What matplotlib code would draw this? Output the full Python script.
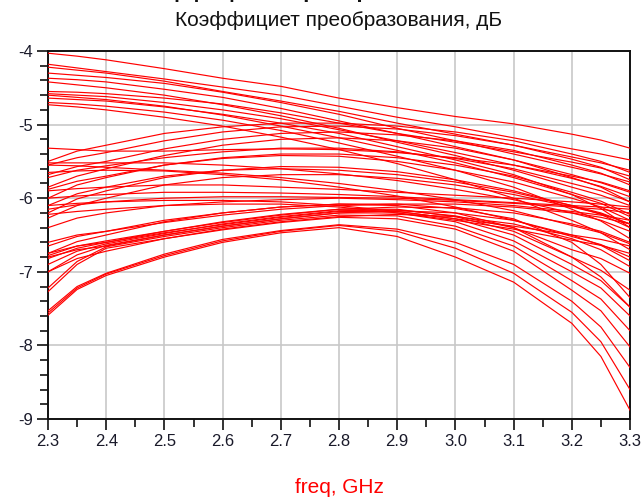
import matplotlib
matplotlib.use("Agg")
import matplotlib.pyplot as plt
from matplotlib.ticker import MultipleLocator, FormatStrFormatter

plt.rcParams['axes.unicode_minus'] = False
plt.rcParams['font.family'] = ['Liberation Sans', 'DejaVu Sans']

freq = [2.3, 2.35, 2.4, 2.5, 2.6, 2.7, 2.8, 2.9, 3.0, 3.1, 3.2, 3.25, 3.3]

# top family (decreasing)
top_curves = [
    [-4.03, -4.07, -4.12, -4.24, -4.37, -4.48, -4.64, -4.77, -4.89, -4.99, -5.13, -5.21, -5.32],
    [-4.18, -4.23, -4.28, -4.38, -4.49, -4.60, -4.75, -4.90, -5.03, -5.18, -5.33, -5.40, -5.48],
    [-4.22, -4.26, -4.30, -4.41, -4.55, -4.68, -4.82, -4.98, -5.13, -5.28, -5.44, -5.52, -5.62],
    [-4.30, -4.33, -4.36, -4.44, -4.56, -4.70, -4.86, -5.05, -5.22, -5.40, -5.58, -5.67, -5.78],
    [-4.37, -4.39, -4.42, -4.52, -4.63, -4.78, -4.95, -5.12, -5.30, -5.48, -5.68, -5.79, -5.92],
    [-4.42, -4.46, -4.50, -4.60, -4.73, -4.88, -5.05, -5.24, -5.42, -5.62, -5.85, -5.96, -6.10],
    [-4.55, -4.56, -4.58, -4.64, -4.72, -4.84, -4.98, -5.12, -5.24, -5.37, -5.51, -5.59, -5.70],
    [-4.58, -4.60, -4.62, -4.70, -4.80, -4.92, -5.07, -5.22, -5.38, -5.55, -5.73, -5.84, -5.98],
    [-4.60, -4.63, -4.66, -4.75, -4.87, -5.02, -5.18, -5.35, -5.52, -5.72, -5.95, -6.07, -6.25],
    [-4.64, -4.66, -4.68, -4.76, -4.86, -4.98, -5.12, -5.30, -5.48, -5.68, -5.95, -6.14, -6.40],
    [-4.70, -4.72, -4.75, -4.83, -4.94, -5.08, -5.25, -5.43, -5.62, -5.85, -6.15, -6.31, -6.55],
    [-4.73, -4.76, -4.80, -4.90, -5.02, -5.17, -5.34, -5.53, -5.75, -6.00, -6.30, -6.47, -6.70],
]

# middle family (arcs)
mid_curves = [
    [-5.32, -5.34, -5.36, -5.36, -5.34, -5.33, -5.34, -5.38, -5.45, -5.55, -5.70, -5.78, -5.90],
    [-5.50, -5.36, -5.28, -5.12, -5.03, -4.98, -4.98, -5.02, -5.10, -5.22, -5.40, -5.50, -5.65],
    [-5.55, -5.45, -5.38, -5.22, -5.10, -5.03, -5.02, -5.06, -5.15, -5.28, -5.47, -5.58, -5.75],
    [-5.68, -5.57, -5.50, -5.33, -5.20, -5.12, -5.10, -5.14, -5.22, -5.35, -5.55, -5.66, -5.82],
    [-5.72, -5.62, -5.56, -5.45, -5.37, -5.32, -5.32, -5.37, -5.46, -5.60, -5.80, -5.90, -6.05],
    [-5.85, -5.70, -5.60, -5.42, -5.28, -5.20, -5.18, -5.22, -5.32, -5.48, -5.72, -5.85, -6.05],
    [-5.88, -5.77, -5.70, -5.55, -5.46, -5.42, -5.43, -5.50, -5.62, -5.78, -6.00, -6.12, -6.30],
    [-6.00, -5.82, -5.72, -5.55, -5.45, -5.40, -5.40, -5.45, -5.55, -5.70, -5.92, -6.04, -6.22],
    [-5.52, -5.52, -5.52, -5.52, -5.55, -5.60, -5.67, -5.76, -5.88, -6.02, -6.20, -6.30, -6.45],
    [-5.55, -5.56, -5.58, -5.62, -5.66, -5.72, -5.80, -5.90, -6.02, -6.17, -6.37, -6.47, -6.62],
    [-5.65, -5.63, -5.62, -5.63, -5.68, -5.75, -5.85, -5.97, -6.12, -6.30, -6.52, -6.63, -6.80],
    [-6.10, -5.94, -5.85, -5.70, -5.62, -5.60, -5.62, -5.68, -5.78, -5.92, -6.10, -6.20, -6.35],
    [-6.20, -6.01, -5.90, -5.72, -5.62, -5.57, -5.58, -5.64, -5.75, -5.90, -6.10, -6.22, -6.40],
    [-6.27, -6.10, -6.00, -5.82, -5.72, -5.68, -5.68, -5.73, -5.82, -5.95, -6.12, -6.21, -6.35],
]

# lower family (flat near -6 dB)
low_curves = [
    [-5.90, -5.87, -5.85, -5.82, -5.82, -5.85, -5.88, -5.92, -5.96, -6.00, -6.05, -6.08, -6.12],
    [-6.00, -5.97, -5.95, -5.92, -5.92, -5.93, -5.95, -5.98, -6.02, -6.06, -6.10, -6.12, -6.15],
    [-6.15, -6.09, -6.05, -6.00, -5.98, -5.98, -5.99, -6.00, -6.03, -6.07, -6.12, -6.15, -6.20],
    [-6.40, -6.27, -6.20, -6.10, -6.05, -6.02, -6.00, -6.02, -6.05, -6.10, -6.18, -6.23, -6.30],
    [-6.60, -6.50, -6.45, -6.33, -6.23, -6.15, -6.10, -6.08, -6.08, -6.12, -6.20, -6.26, -6.35],
    [-6.75, -6.65, -6.60, -6.45, -6.32, -6.22, -6.15, -6.12, -6.13, -6.20, -6.35, -6.45, -6.60],
    [-6.80, -6.70, -6.65, -6.50, -6.38, -6.28, -6.20, -6.17, -6.20, -6.30, -6.50, -6.64, -6.85],
    [-7.00, -6.82, -6.72, -6.55, -6.42, -6.32, -6.25, -6.22, -6.25, -6.35, -6.55, -6.70, -6.93],
    [-6.10, -6.07, -6.05, -6.03, -6.03, -6.05, -6.10, -6.18, -6.28, -6.38, -6.50, -6.56, -6.65],
    [-6.22, -6.18, -6.15, -6.10, -6.08, -6.08, -6.12, -6.20, -6.30, -6.42, -6.57, -6.64, -6.75],
    [-6.65, -6.52, -6.45, -6.30, -6.20, -6.12, -6.08, -6.08, -6.14, -6.28, -6.60, -6.90, -7.35],
    [-6.75, -6.59, -6.50, -6.32, -6.20, -6.12, -6.08, -6.10, -6.20, -6.40, -6.80, -7.07, -7.48],
]

# lower arc band
arc_curves = [
    [-6.78, -6.65, -6.58, -6.45, -6.33, -6.23, -6.15, -6.15, -6.25, -6.45, -6.80, -6.98, -7.25],
    [-6.82, -6.68, -6.60, -6.47, -6.36, -6.26, -6.18, -6.18, -6.28, -6.50, -6.90, -7.12, -7.48],
    [-7.00, -6.77, -6.64, -6.50, -6.38, -6.28, -6.20, -6.20, -6.32, -6.58, -7.00, -7.22, -7.60],
    [-7.22, -6.86, -6.66, -6.52, -6.40, -6.30, -6.23, -6.24, -6.38, -6.65, -7.12, -7.37, -7.80],
    [-7.27, -6.90, -6.68, -6.55, -6.43, -6.33, -6.26, -6.28, -6.42, -6.72, -7.25, -7.53, -8.02],
    [-6.90, -6.72, -6.62, -6.48, -6.35, -6.25, -6.17, -6.16, -6.24, -6.40, -6.70, -6.82, -7.02],
]

# bottom band
bottom_curves = [
    [-7.59, -7.24, -7.05, -6.80, -6.60, -6.47, -6.40, -6.52, -6.80, -7.14, -7.70, -8.15, -8.88],
    [-7.56, -7.22, -7.03, -6.78, -6.58, -6.45, -6.37, -6.45, -6.68, -7.02, -7.55, -7.95, -8.60],
    [-7.53, -7.20, -7.02, -6.76, -6.56, -6.44, -6.36, -6.42, -6.60, -6.90, -7.40, -7.75, -8.30],
]

x_ticks = [2.3, 2.4, 2.5, 2.6, 2.7, 2.8, 2.9, 3.0, 3.1, 3.2, 3.3]
y_ticks = [-9, -8, -7, -6, -5, -4]

fig = plt.figure(figsize=(6.43, 4.98), dpi=100)
ax = fig.add_axes([48/643, 1-419/498, (630-48)/643, (419-51)/498])

for group in (top_curves, mid_curves, low_curves, arc_curves, bottom_curves):
    for c in group:
        ax.plot(freq, c, color='#FF0000', lw=0.85, antialiased=True, zorder=3)

ax.set_xlim(2.3, 3.3)
ax.set_ylim(-9, -4)
ax.set_xticks(x_ticks)
ax.set_yticks(y_ticks)
ax.xaxis.set_major_formatter(FormatStrFormatter('%.1f'))
ax.yaxis.set_major_formatter(FormatStrFormatter('%d'))
ax.xaxis.set_minor_locator(MultipleLocator(0.05))
ax.yaxis.set_minor_locator(MultipleLocator(0.2))
ax.grid(True, which='major', color='#C8C8C8', lw=1.2, zorder=0)
ax.set_axisbelow(True)
for s in ax.spines.values():
    s.set_color('#111111')
    s.set_linewidth(1.4)
ax.tick_params(which='major', length=8, width=1.2, color='#111111', labelsize=12,
               labelcolor='#1a1a2a', pad=3)
ax.tick_params(which='minor', length=6, width=1.2, color='#111111')

ax.set_xlabel('freq, GHz', color='#FF0000', fontsize=15, labelpad=21)
fig.text(339/643, 1-20/498, 'Коэффициет преобразования, дБ', ha='center', va='center',
         fontsize=15, color='#111111')
fig.text(300/643, 1+3/498, 'Коэффициент преобразования', ha='center', va='baseline',
         fontsize=16, fontweight='bold', color='#111111')

fig.savefig('out.png', dpi=100)
